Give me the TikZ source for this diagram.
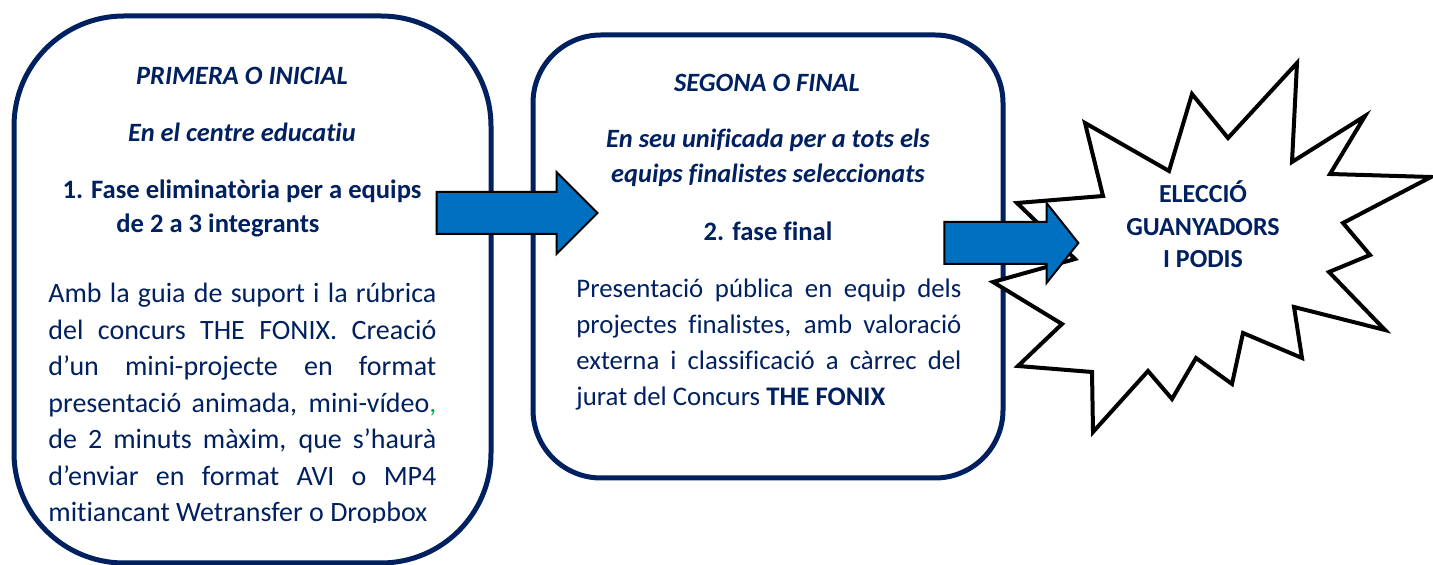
\documentclass[tikz,border=0pt]{standalone}
\usepackage{fontspec}
\setmainfont{Carlito}[Ligatures=NoCommon]
\usepackage{xcolor}
\usepackage{tikz}
\usetikzlibrary{shapes.arrows}
\definecolor{fonixNavy}{RGB}{0, 32, 96}
\definecolor{fonixBlue}{RGB}{0, 112, 192}
\definecolor{fonixGreen}{RGB}{0, 176, 80}
\tolerance=9999
\hyphenpenalty=10000
\exhyphenpenalty=10000

\tikzset{
    phasebox/.style={draw=fonixNavy, line width=2.5pt, inner sep=0pt},
    headtxt/.style={text=fonixNavy, font=\fontsize{13.2}{18}\selectfont\bfseries\itshape, anchor=base, inner sep=0pt},
    steptxt/.style={text=fonixNavy, font=\fontsize{13.3}{17}\selectfont\bfseries, anchor=base, inner sep=0pt},
    bodytxt/.style={text=fonixNavy, font=\fontsize{14}{18.25}\selectfont, align=justify, anchor=base west, inner sep=0pt},
    blockarrow/.style={single arrow, draw=black, fill=fonixBlue, line width=1pt, inner xsep=0pt, inner ysep=10pt}
}

\begin{document}
\begin{tikzpicture}[x=0.5pt, y=-0.5pt]
    \useasboundingbox (0,0) rectangle (1433,565);
    \node[phasebox, rounded corners=55pt, minimum width=238.5pt, minimum height=273.5pt] (fase1) at (252.5,289.5) {};
    \node[phasebox, rounded corners=34pt, minimum width=235pt, minimum height=221.5pt] (fase2) at (768,256.5) {};
    \draw[line width=2pt, fill=white] (1017,203) -- (1103,196) -- (1085,123) -- (1169,171) -- (1192,94)
        -- (1228,138) -- (1297,63) -- (1292,162) -- (1365,116) -- (1330,174) -- (1431,177)
        -- (1343,223) -- (1370,255) -- (1329,272) -- (1385,330) -- (1294,307) -- (1302,358)
        -- (1243,333) -- (1232,384) -- (1196,358) -- (1172,399) -- (1148,371) -- (1093,432)
        -- (1092,372) -- (1018,366) -- (1062,324) -- (993,282) -- (1075,259) -- cycle;
    \node[blockarrow, minimum height=80.5pt, minimum width=40pt, single arrow head extend=10pt] (arr1) at (506.5,213) {};
    \node[blockarrow, minimum height=67pt, minimum width=39pt, single arrow head extend=9.5pt, single arrow tip angle=103] (arr2) at (1003,243) {};

    % primera fase
    \node[headtxt] (tit1) at (242,85) {PRIMERA O INICIAL};
    \node[headtxt] (lloc1) at (242,141.7) {En el centre educatiu};
    \node[steptxt] (pas1) at (242,199) {1. Fase eliminatòria per a equips};
    \node[steptxt, anchor=base west] (pas1b) at (116,233) {de 2 a 3 integrants};
    \begin{scope}
        \clip (0,0) rectangle (1433,523);
        \node[bodytxt, text width=194pt] (cos1) at (48,303) {Amb la guia de suport i la rúbrica\linebreak
            del concurs THE FONIX. Creació\linebreak
            d’un mini-projecte en format\linebreak
            presentació animada, mini-vídeo{\color{fonixGreen},}\linebreak
            de 2 minuts màxim, que s’haurà\linebreak
            d’enviar en format AVI o MP4\linebreak
            mitiancant Wetransfer o Dropbox};
    \end{scope}

    % segona fase
    \node[headtxt] (tit2) at (767,91.7) {SEGONA O FINAL};
    \node[headtxt] (lloc2) at (768,148) {En seu unificada per a tots els};
    \node[headtxt] (lloc2b) at (768,183) {equips finalistes seleccionats};
    \node[steptxt] (pas2) at (768,241) {2. fase final};
    \node[bodytxt, text width=192.5pt, font=\fontsize{13.4}{18}\selectfont] (cos2) at (576,297.5) {Presentació pública en equip dels\linebreak
        projectes finalistes, amb valoració\linebreak
        externa i classificació a càrrec del\linebreak
        jurat del Concurs \textbf{THE FONIX}};

    % final
    \node[text=fonixNavy, font=\fontsize{13}{16.25}\selectfont\bfseries, align=center, inner sep=0pt] (guanyadors) at (1203,224.5) {ELECCIÓ\\GUANYADORS\\I PODIS};
\end{tikzpicture}
\end{document}
